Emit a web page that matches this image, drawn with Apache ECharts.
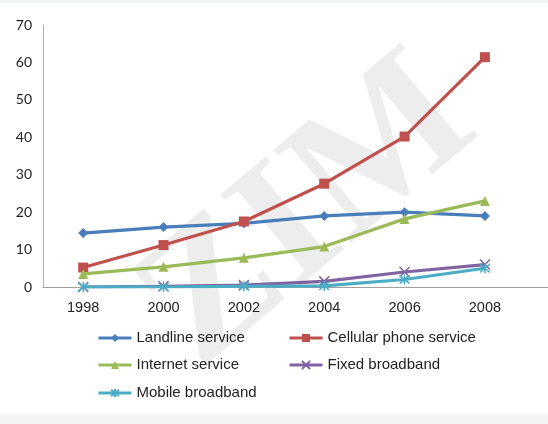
<!DOCTYPE html>
<html>
<head>
<meta charset="utf-8">
<script src="https://cdn.jsdelivr.net/npm/echarts@6/dist/echarts.min.js"></script>
<style>
html,body{margin:0;padding:0;background:#f3f4f6;}
#c{width:548px;height:424px;}
</style>
</head>
<body>
<div id="c"></div>
<script>
var years = [1998, 2000, 2002, 2004, 2006, 2008];
var yTicks = [0, 10, 20, 30, 40, 50, 60, 70];
var landline = [14.4, 16.0, 17.0, 19.0, 20.0, 19.0];
var cellular = [5.2, 11.2, 17.5, 27.6, 40.2, 61.4];
var internet = [3.5, 5.4, 7.8, 10.8, 18.2, 23.0];
var fixedBB = [0, 0.2, 0.5, 1.5, 4.0, 6.0];
var mobileBB = [0, 0, 0.2, 0.3, 2.0, 5.0];
var names = ['Landline service', 'Cellular phone service', 'Internet service', 'Fixed broadband', 'Mobile broadband'];

function pairs(vals){ return years.map(function(y,i){ return [y, vals[i]]; }); }

var colors = ['#4a7ebb', '#c0504d', '#9bbb59', '#8064a2', '#4bacc6'];
var symbols = ['diamond', 'rect', 'triangle',
  'path://M0,0L10,10M10,0L0,10',
  'path://M0,0L10,10M10,0L0,10M5,-1L5,11'];
var sizes = [10, 10, 10, 10, 10];
var allVals = [landline, cellular, internet, fixedBB, mobileBB];

var series = allVals.map(function(v, i){
  var stroke = i >= 3;
  return {
    name: names[i], type: 'line', data: pairs(v),
    symbol: symbols[i], symbolSize: sizes[i],
    showSymbol: true,
    lineStyle: {color: colors[i], width: 3.2},
    itemStyle: {color: colors[i], borderColor: colors[i], borderWidth: stroke ? 1.5 : 0},
    emphasis: {disabled: true},
    z: 3 + i
  };
});

var legendPos = [[97, 330], [288, 330], [97, 357], [288, 357], [97, 385]];
var legends = names.map(function(n, i){
  return {
    data: [n], left: legendPos[i][0], top: legendPos[i][1], padding: 0,
    itemWidth: 33, itemHeight: 10, itemGap: 0, selectedMode: false,
    lineStyle: {width: 3},
    textStyle: {fontFamily: 'Liberation Sans, Arial, sans-serif', fontSize: 15, color: '#222', lineHeight: 16}
  };
});

var chart = echarts.init(document.getElementById('c'), null, {renderer: 'canvas'});
chart.setOption({
  backgroundColor: '#f3f4f6',
  animation: false,
  graphic: [
    {type: 'rect', left: 0, top: 3, shape: {width: 548, height: 411}, style: {fill: '#ffffff'}, z: -10, silent: true},
    {type: 'text', x: 310, y: 215, rotation: 0.7, z: -5, silent: true,
      style: {text: 'ZIM', font: 'bold 185px "Liberation Serif", serif', fill: 'rgba(0,0,0,0.07)', align: 'center', verticalAlign: 'middle'}}
  ],
  legend: legends,
  grid: {left: 43, right: 0, top: 25, bottom: 137, containLabel: false},
  xAxis: {
    type: 'value', min: 1997, max: 2009.57,
    axisLine: {show: true, lineStyle: {color: '#a0a0a0', width: 1}},
    axisTick: {show: false},
    splitLine: {show: false},
    axisLabel: {
      customValues: years, margin: 13,
      fontFamily: 'Liberation Sans, Arial, sans-serif', fontSize: 14.5, color: '#222',
      formatter: function(v){ return String(v); }
    }
  },
  yAxis: {
    type: 'value', min: 0, max: 70, interval: 10,
    axisLine: {show: true, lineStyle: {color: '#b0b0b0', width: 1}},
    axisTick: {show: false},
    splitLine: {show: false},
    axisLabel: {
      customValues: yTicks, margin: 11,
      fontFamily: 'Lato, Carlito, sans-serif', fontSize: 14, color: '#222'
    }
  },
  series: series
});
</script>
</body>
</html>
